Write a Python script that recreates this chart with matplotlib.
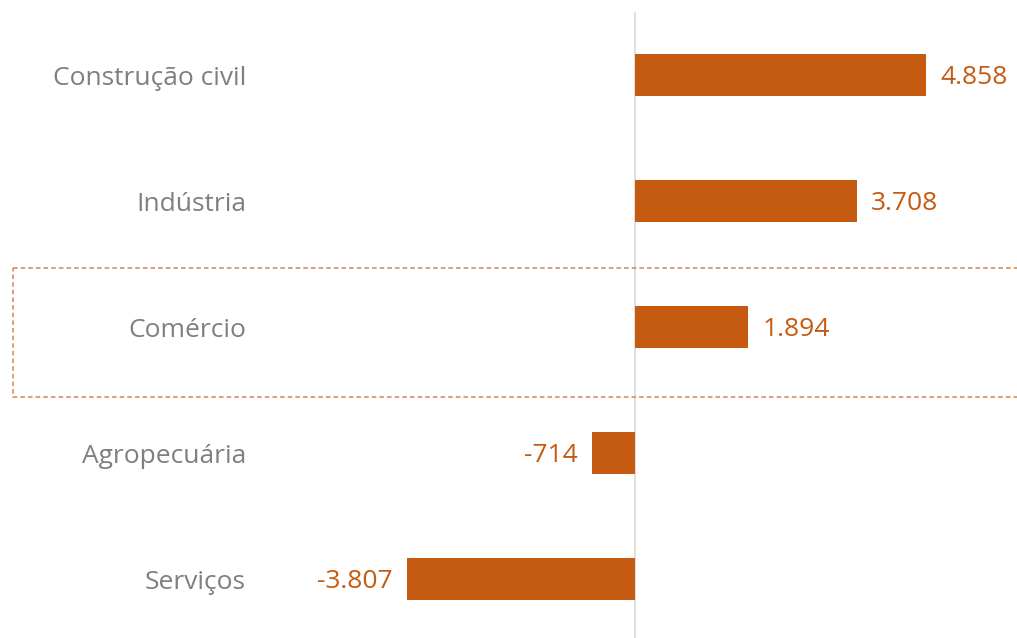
import matplotlib.pyplot as plt
from matplotlib.patches import Rectangle
import matplotlib.transforms as transforms

categories = ["Construção civil", "Indústria", "Comércio", "Agropecuária", "Serviços"]
values = [4858, 3708, 1894, -714, -3807]
value_labels = ["4.858", "3.708", "1.894", "-714", "-3.807"]

bar_color = "#C55A11"
label_color = "#7F7F7F"

W, H = 1017, 638
fig = plt.figure(figsize=(W / 100, H / 100), dpi=100)
plt.rcParams['font.family'] = ['Open Sans', 'DejaVu Sans']

# axes span from the label column to the right edge
ax = fig.add_axes([260 / W, 0, 1 - 260 / W, (H - 12) / H])
ax.barh(range(len(values)), values, height=0.333, color=bar_color)

scale = 291 / 4858.0  # px per unit
ax.set_xlim((260 - 635) / scale, (W - 635) / scale)
ax.set_ylim(4.468, -0.5)

ax.axvline(0, color="#D9D9D9", linewidth=1.2, zorder=0)

for i, (v, lab) in enumerate(zip(values, value_labels)):
    off = 14 / scale
    y = i + 0.02
    if v >= 0:
        ax.text(v + off, y, lab, va="center", ha="left", fontsize=19, color=bar_color)
    else:
        ax.text(v - off, y, lab, va="center", ha="right", fontsize=19, color=bar_color)

ax.set_yticks(range(len(categories)))
ax.set_yticklabels(categories, fontsize=19, color=label_color)
ax.tick_params(axis="y", length=0, pad=10)
ax.set_xticks([])
for s in ax.spines.values():
    s.set_visible(False)

# dashed highlight around Comércio
trans = transforms.blended_transform_factory(fig.transFigure, ax.transData)
box = Rectangle((12.5 / W, 1.532), 1.0, 2.556 - 1.532, transform=trans,
                fill=False, edgecolor="#D9844A", linestyle=(0, (3, 2)),
                linewidth=1.1, clip_on=False)
ax.add_patch(box)

fig.savefig("out.png", dpi=100)
